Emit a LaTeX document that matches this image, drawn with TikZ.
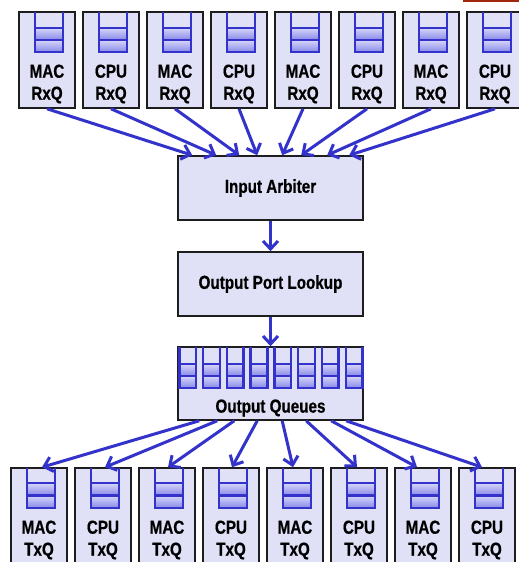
\documentclass[tikz,border=0pt]{standalone}
\usepackage{fontspec}
\newfontfamily\nar{Liberation Sans}[FakeStretch=0.81,BoldFeatures={FakeBold=0.6}]
\usetikzlibrary{arrows.meta,calc}
\definecolor{boxfill}{RGB}{224,224,246}
\definecolor{boxline}{RGB}{30,30,30}
\definecolor{arrowblue}{RGB}{51,51,204}
\definecolor{qline}{RGB}{51,51,204}
\definecolor{qtop}{RGB}{214,214,250}
\definecolor{qbot}{RGB}{136,136,232}
\definecolor{topbar}{RGB}{160,40,10}
\newcommand\lblfont{\nar\bfseries\fontsize{18.8}{22}\selectfont}
\tikzset{
  unit/.style={draw=boxline, line width=1.6pt, fill=boxfill, minimum width=56pt, inner sep=0pt},
  rxbox/.style={unit, minimum height=96pt},
  txbox/.style={unit, minimum height=110pt},
  stage/.style={draw=boxline, line width=1.6pt, fill=boxfill, minimum width=185pt, inner sep=0pt, font=\lblfont},
  lbl/.style={font=\lblfont, align=center, inner sep=0pt},
  flow/.style={draw=arrowblue, line width=3pt, -{Straight Barb[length=8pt,width=15pt]}},
  qpen/.style={draw=qline, line width=2.4pt},
  qcell/.style={top color=qtop, bottom color=qbot},
}
% #1 centre x, #2 top y, #3 width, #4 #5 #6 line ys
\newcommand\drawqueue[6]{%
  \shade[qcell] (#1-#3/2,#4) rectangle (#1+#3/2,#5);
  \shade[qcell] (#1-#3/2,#5) rectangle (#1+#3/2,#6);
  \draw[qpen] (#1-#3/2,#2) -- (#1-#3/2,#6) -- (#1+#3/2,#6) -- (#1+#3/2,#2);
  \draw[qpen] (#1-#3/2,#4) -- (#1+#3/2,#4) (#1-#3/2,#5) -- (#1+#3/2,#5);
}
\begin{document}
\begin{tikzpicture}[x=1pt,y=-1pt]
\useasboundingbox (0,0) rectangle (519,562);
\clip (0,0) rectangle (519,562);
\fill[white] (0,0) rectangle (519,562);
\fill[topbar] (463,0) rectangle (519,2.2);

% receive queues
\foreach \i/\t in {1/MAC,2/CPU,3/MAC,4/CPU,5/MAC,6/CPU,7/MAC,8/CPU}{
  \pgfmathsetmacro\cx{47+64*(\i-1)}
  \node[rxbox] (r\i) at (\cx,60) {};
  \drawqueue{\cx+2}{12}{28}{28}{40}{52}
  \node[lbl] (rl\i) at (\cx,84) {\t\\RxQ};
}
% transmit queues
\foreach \i/\t in {1/MAC,2/CPU,3/MAC,4/CPU,5/MAC,6/CPU,7/MAC,8/CPU}{
  \pgfmathsetmacro\cx{39+64*(\i-1)}
  \node[txbox] (t\i) at (\cx,523) {};
  \drawqueue{\cx+2}{468}{28}{483}{495.5}{508}
  \node[lbl] (tl\i) at (\cx,540) {\t\\TxQ};
}

% pipeline stages
\node[stage, minimum height=64pt] (ia) at (270.5,188) {Input Arbiter};
\node[stage, minimum height=64pt] (opl) at (270.5,284) {Output Port Lookup};
\node[stage, minimum height=73pt] (oq) at (270.5,383.5) {};
\foreach \j in {0,...,7}{
  \pgfmathsetmacro\qx{187.7+23.77*\j}
  \drawqueue{\qx}{347}{16.7}{364}{376}{388}
}
\node[lbl] (oql) at (270.5,408) {Output Queues};

% connectors
\foreach \i/\dx in {1/15,2/39,3/62,4/80,5/105,6/124,7/150,8/172}
  \draw[flow] (r\i.south) -- ($(ia.north west)+(\dx,0)$);
\draw[flow] (ia.south) -- (opl.north);
\draw[flow] (opl.south) -- (oq.north);
\foreach \i/\sx/\ex in {1/22/3,2/40/2,3/57/1,4/80/1,5/105/-2,6/129/-2,7/154/-6,8/169/-5}
  \draw[flow] ($(oq.south west)+(\sx,0)$) -- ($(t\i.north)+(\ex,0)$);
\end{tikzpicture}
\end{document}
